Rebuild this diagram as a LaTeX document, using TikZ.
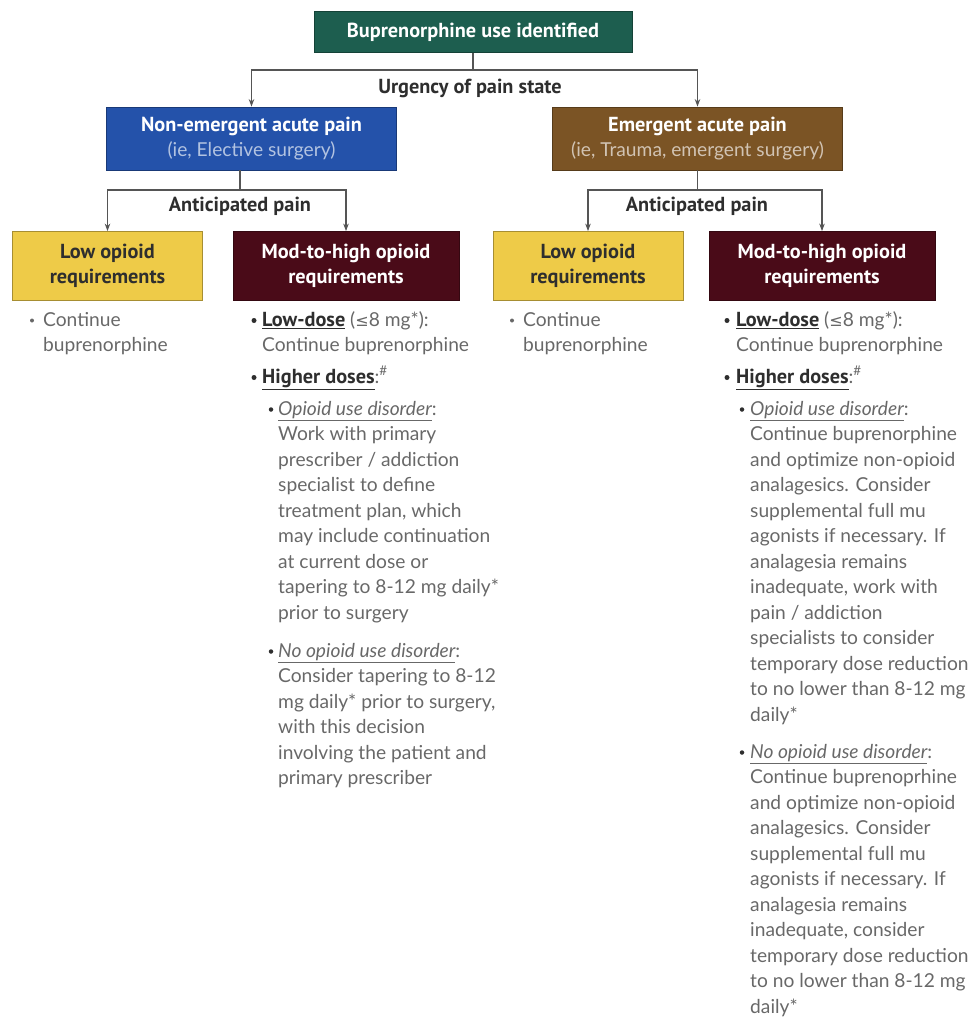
\documentclass[tikz,border=0pt]{standalone}
\usepackage{fontspec}
\setmainfont{Lato}
\newfontfamily\headf{PT Sans}
\newfontfamily\symf{DejaVu Sans}
\usetikzlibrary{arrows.meta}
\definecolor{cgreen}{HTML}{1D5E4F}
\definecolor{cblue}{HTML}{2452AA}
\definecolor{cbrown}{HTML}{7B5425}
\definecolor{cyellow}{HTML}{EECB48}
\definecolor{cmaroon}{HTML}{4A0B18}
\definecolor{ctext}{HTML}{686868}
\definecolor{cdark}{HTML}{2E2E2E}
\definecolor{cline}{HTML}{555555}
\newcommand{\bodyfont}{\fontsize{19.2}{25.5}\selectfont\color{ctext}}
\newcommand{\hd}{\headf\bfseries\fontsize{20.3}{25}\selectfont}
\newcommand{\bw}[1]{{\headf\bfseries\fontsize{20.3}{25}\selectfont\color{cdark}\underline{#1}}}
\newcommand{\iw}[1]{\textit{\underline{#1}}}
\tikzset{
  box/.style={draw=#1!70!black, fill=#1, line width=0.8pt, inner sep=0pt, align=center},
  lbl/.style={font=\hd\color{cdark}, inner sep=0pt},
  conn/.style={draw=cline, line width=1.1pt},
  arr/.style={conn, -{Stealth[length=7.5pt,width=5.5pt]}},
  bul/.style={circle, fill=#1, inner sep=0pt, minimum size=5pt, yshift=5.5pt},
  bul/.default=cdark,
  itm/.style={anchor=north west, inner sep=0pt, align=left, font=\bodyfont, yshift=17.85pt},
}
\begin{document}
\begin{tikzpicture}[x=1pt,y=-1pt]
\useasboundingbox (0,0) rectangle (975,1017);
% boxes
\node[box=cgreen, minimum width=318pt, minimum height=41pt, font=\hd\color{white}] (top) at (473,32) {Buprenorphine use identified};
\node[box=cblue, minimum width=290pt, minimum height=63pt] (ne) at (251.5,138.5)
  {{\hd\color{white}Non-emergent acute pain}\\[4pt]{\fontsize{19.2}{22}\selectfont\color{cblue!35!white}(ie, Elective surgery)}};
\node[box=cbrown, minimum width=290pt, minimum height=63pt] (em) at (697.5,138.5)
  {{\hd\color{white}Emergent acute pain}\\[4pt]{\fontsize{19.2}{22}\selectfont\color{cbrown!35!white}(ie, Trauma, emergent surgery)}};
\node[box=cyellow, minimum width=190pt, minimum height=69pt, font=\hd\color{cdark}] (lowL) at (107.5,266) {Low opioid\\requirements};
\node[box=cmaroon, minimum width=226pt, minimum height=69pt, font=\hd\color{white}] (modL) at (346,266) {Mod-to-high opioid\\requirements};
\node[box=cyellow, minimum width=190pt, minimum height=69pt, font=\hd\color{cdark}] (lowR) at (588,266) {Low opioid\\requirements};
\node[box=cmaroon, minimum width=226pt, minimum height=69pt, font=\hd\color{white}] (modR) at (822,266) {Mod-to-high opioid\\requirements};
% labels
\node[lbl] (urg) at (470,88) {Urgency of pain state};
\node[lbl] (antL) at (240,206) {Anticipated pain};
\node[lbl] (antR) at (697,206) {Anticipated pain};
% connectors
\coordinate (j1) at (473,70);
\coordinate (j2) at (240,190);
\coordinate (j3) at (697.5,190);
\draw[conn] (top.south) -- (j1);
\draw[arr] (j1) -| (ne.north);
\draw[arr] (j1) -| (em.north);
\draw[conn] ([xshift=-11.5pt]ne.south) -- (j2);
\draw[arr] (j2) -| (lowL.north);
\draw[arr] (j2) -| (modL.north);
\draw[conn] (em.south) -- (j3);
\draw[arr] (j3) -| (lowR.north);
\draw[arr] (j3) -| (modR.north);
% left column
\node[bul=ctext, minimum size=4pt] (b1) at (32,326) {};
\node[itm] (t1) at (43,326) {\strut Continue\\buprenorphine};
% mid-left column
\node[bul] (b2) at (254,326) {};
\node[itm] (t2) at (262,326) {\strut\bw{Low-dose} ({\symf\fontsize{16}{20}\selectfont ≤}8 mg*):\\Continue buprenorphine};
\node[bul] (b3) at (254,383) {};
\node[itm] (t3) at (262,383) {\strut\bw{Higher doses}:\textsuperscript{\#}};
\node[bul, minimum size=4.5pt] (b4) at (271,415) {};
\node[itm] (t4) at (278,415) {\strut\iw{Opioid use disorder}:\\Work with primary\\prescriber / addiction\\specialist to define\\treatment plan, which\\may include continuation\\at current dose or\\tapering to 8-12 mg daily*\\prior to surgery};
\node[bul, minimum size=4.5pt] (b5) at (271,657) {};
\node[itm] (t5) at (278,657) {\strut\iw{No opioid use disorder}:\\Consider tapering to 8-12\\mg daily* prior to surgery,\\with this decision\\involving the patient and\\primary prescriber};
% emergent low
\node[bul=ctext, minimum size=4pt] (b6) at (512,326) {};
\node[itm] (t6) at (523,326) {\strut Continue\\buprenorphine};
% right column
\node[bul] (b7) at (727,326) {};
\node[itm] (t7) at (736,326) {\strut\bw{Low-dose} ({\symf\fontsize{16}{20}\selectfont ≤}8 mg*):\\Continue buprenorphine};
\node[bul] (b8) at (727,383) {};
\node[itm] (t8) at (736,383) {\strut\bw{Higher doses}:\textsuperscript{\#}};
\node[bul, minimum size=4.5pt] (b9) at (742,415) {};
\node[itm] (t9) at (750,415) {\strut\iw{Opioid use disorder}:\\Continue buprenorphine\\and optimize non-opioid\\analagesics. Consider\\supplemental full mu\\agonists if necessary. If\\analagesia remains\\inadequate, work with\\pain / addiction\\specialists to consider\\temporary dose reduction\\to no lower than 8-12 mg\\daily*};
\node[bul, minimum size=4.5pt] (b10) at (742,758) {};
\node[itm] (t10) at (750,758) {\strut\iw{No opioid use disorder}:\\Continue buprenoprhine\\and optimize non-opioid\\analagesics. Consider\\supplemental full mu\\agonists if necessary. If\\analagesia remains\\inadequate, consider\\temporary dose reduction\\to no lower than 8-12 mg\\daily*};
\end{tikzpicture}
\end{document}
